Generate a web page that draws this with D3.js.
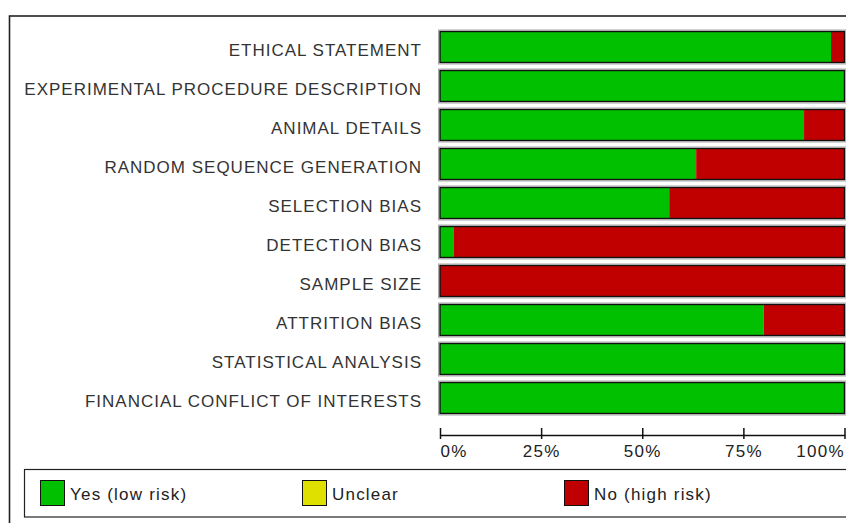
<!DOCTYPE html>
<html><head><meta charset="utf-8">
<script src="https://cdn.jsdelivr.net/npm/d3@7"></script>
<style>body{margin:0;background:#fff}svg{display:block}</style>
</head><body>
<svg id="c" width="846" height="523"></svg>
<script>
const categories = ["ETHICAL STATEMENT","EXPERIMENTAL PROCEDURE DESCRIPTION","ANIMAL DETAILS","RANDOM SEQUENCE GENERATION","SELECTION BIAS","DETECTION BIAS","SAMPLE SIZE","ATTRITION BIAS","STATISTICAL ANALYSIS","FINANCIAL CONFLICT OF INTERESTS"];
const yesLow = [96.67,100,90,63.33,56.67,3.33,0,80,100,100];
const unclear = [0,0,0,0,0,0,0,0,0,0];
const noHigh = [3.33,0,10,36.67,43.33,96.67,100,20,0,0];
const tickValues = [0,25,50,75,100];
const legendLabels = ["Yes (low risk)","Unclear","No (high risk)"];
const colors = ["#00c000","#e0e000","#c00000"];

const svg = d3.select("#c");
// outer frame
svg.append("rect").attr("x",9.5).attr("y",16).attr("width",900).attr("height",600)
  .attr("fill","none").attr("stroke","#222").attr("stroke-width",1.6);

const x = d3.scaleLinear().domain([0,100]).range([440,844.5]);
const y = d3.scaleBand().domain(categories).range([27.5,417.5]).paddingInner(8/39).paddingOuter(4/39);

const series = [yesLow, unclear, noHigh];
const rows = svg.append("g").selectAll("g").data(categories).join("g");
rows.append("rect").attr("x",x(0)-1.5).attr("y",d=>y(d)-1.5).attr("width",x(100)-x(0)+3).attr("height",y.bandwidth()+3)
  .attr("fill","none").attr("stroke","#aaa").attr("stroke-width",1);
rows.each(function(d,i){
  let acc = 0;
  const g = d3.select(this);
  series.forEach((s,k)=>{
    const v = s[i];
    if (v>0) g.append("rect").attr("x",x(acc)).attr("y",y(d)).attr("width",x(acc+v)-x(acc)).attr("height",y.bandwidth()).attr("fill",colors[k]);
    acc += v;
  });
});
rows.append("rect").attr("x",x(0)).attr("y",d=>y(d)).attr("width",x(100)-x(0)).attr("height",y.bandwidth())
  .attr("fill","none").attr("stroke","#111").attr("stroke-width",1.4);
rows.append("text").attr("x",422).attr("y",d=>y(d)+y.bandwidth()/2+9).attr("text-anchor","end")
  .attr("font-family","Liberation Sans, Arial, sans-serif").attr("font-size",17).attr("letter-spacing",1.0)
  .attr("fill","#333").text(d=>d);

// axis
const ax = svg.append("g").attr("transform","translate(0,435)")
  .call(d3.axisBottom(x).tickValues(tickValues).tickSize(4).tickSizeOuter(0).tickFormat(d=>d+"%"));
ax.select(".domain").attr("stroke","#111").attr("stroke-width",1.5);
ax.selectAll(".tick line").attr("y1",-7).attr("y2",4).attr("stroke","#111").attr("stroke-width",1.5);
ax.selectAll(".tick text").attr("y",22).attr("dy",0).attr("fill","#222")
  .attr("font-family","Liberation Sans, Arial, sans-serif").attr("font-size",17).attr("letter-spacing",1.3)
  .attr("text-anchor",(d,i)=> i===0?"start":(i===tickValues.length-1?"end":"middle"));

// legend
svg.append("rect").attr("x",24.5).attr("y",469.5).attr("width",900).attr("height",47.5)
  .attr("fill","none").attr("stroke","#222").attr("stroke-width",1.2);
const lx = [40,302,564];
const lg = svg.append("g").selectAll("g").data(legendLabels).join("g")
  .attr("transform",(d,i)=>`translate(${lx[i]},480)`);
lg.append("rect").attr("x",0.5).attr("y",0.5).attr("width",24).attr("height",25)
  .attr("fill",(d,i)=>colors[i]).attr("stroke","#111").attr("stroke-width",1);
lg.append("text").attr("x",30).attr("y",20).attr("fill","#222")
  .attr("font-family","Liberation Sans, Arial, sans-serif").attr("font-size",17).attr("letter-spacing",1.2)
  .text(d=>d);
</script>
</body></html>
